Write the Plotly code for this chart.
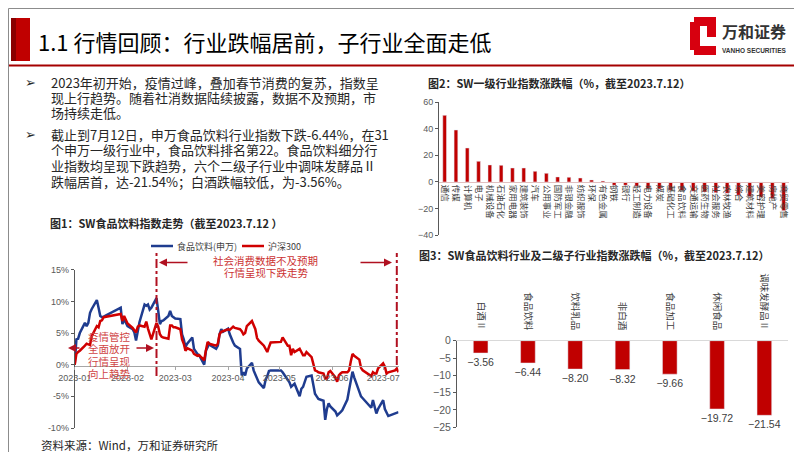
import plotly.graph_objects as go

W, H = 802, 452
def px(x): return x / W
def py(y): return 1 - y / H

# ---------------- data ----------------
dates = [
 "2023-01-03","2023-01-04","2023-01-05","2023-01-06","2023-01-09","2023-01-10","2023-01-11","2023-01-12","2023-01-13",
 "2023-01-16","2023-01-17","2023-01-18","2023-01-19","2023-01-20","2023-01-30","2023-01-31",
 "2023-02-01","2023-02-02","2023-02-03","2023-02-06","2023-02-07","2023-02-08","2023-02-09","2023-02-10",
 "2023-02-13","2023-02-14","2023-02-15","2023-02-16","2023-02-17","2023-02-20","2023-02-21","2023-02-22",
 "2023-02-23","2023-02-24","2023-02-27","2023-02-28",
 "2023-03-01","2023-03-02","2023-03-03","2023-03-06","2023-03-07","2023-03-08","2023-03-09","2023-03-10",
 "2023-03-13","2023-03-14","2023-03-15","2023-03-16","2023-03-17","2023-03-20","2023-03-21","2023-03-22",
 "2023-03-23","2023-03-24","2023-03-27","2023-03-28","2023-03-29","2023-03-30","2023-03-31",
 "2023-04-03","2023-04-04","2023-04-06","2023-04-07","2023-04-10","2023-04-11","2023-04-12","2023-04-13",
 "2023-04-14","2023-04-17","2023-04-18","2023-04-19","2023-04-20","2023-04-21","2023-04-24","2023-04-25",
 "2023-04-26","2023-04-27","2023-04-28",
 "2023-05-04","2023-05-05","2023-05-08","2023-05-09","2023-05-10","2023-05-11","2023-05-12","2023-05-15",
 "2023-05-16","2023-05-17","2023-05-18","2023-05-19","2023-05-22","2023-05-23","2023-05-24","2023-05-25",
 "2023-05-26","2023-05-29","2023-05-30","2023-05-31",
 "2023-06-01","2023-06-02","2023-06-05","2023-06-06","2023-06-07","2023-06-08","2023-06-09","2023-06-12",
 "2023-06-13","2023-06-14","2023-06-15","2023-06-16","2023-06-19","2023-06-20","2023-06-21","2023-06-26",
 "2023-06-27","2023-06-28","2023-06-29","2023-06-30",
 "2023-07-03","2023-07-04","2023-07-05","2023-07-06","2023-07-07","2023-07-10","2023-07-11","2023-07-12",
]
food_bev = [
 0.0, 4.0, 4.1, 5.0, 6.6, 6.1, 6.6, 8.2, 8.8, 10.2, 9.0, 7.7, 7.5, 7.6, 9.0, 6.4,
 7.2, 6.7, 6.1, 5.6, 5.1, 3.8, 5.6, 6.7, 9.5, 9.3, 9.5, 8.7, 9.0, 10.5, 8.5, 6.4, 6.9, 7.0, 7.7, 8.5,
 7.7, 7.5, 7.3, 7.2, 4.8, 4.0, 2.8, 3.3, 4.3, 2.5, 2.0, 1.7, 1.5, 0.0, 2.2, 2.8, 3.3, 3.0, 2.5, 3.0, 4.8, 5.6, 5.2,
 5.7, 4.8, 3.5, 3.0, 2.5, -1.7, -1.2, -1.7, -0.6, 0.3, -0.9, -1.6, -2.4, -2.8, -3.7, -2.4, -1.8, -1.0, -0.9,
 -0.9, -1.2, -2.4, -2.8, -3.5, -3.3, -3.0, -5.0, -3.8, -3.5, -2.7, -1.9, -1.7, -3.5, -4.6, -5.0, -5.4, -5.7, -8.7, -7.0,
 -6.1, -6.6, -7.4, -8.0, -7.8, -7.5, -7.2, -5.5, -4.0, -2.5, -1.1, -2.0, -4.3, -5.0, -5.3, -6.8, -5.6, -6.5, -7.7, -7.0,
 -5.6, -7.0, -7.5, -8.1, -8.0, -7.7, -7.6, -7.5,
]
hs300 = [
 0.0, 1.7, 2.0, 2.2, 3.0, 3.3, 3.2, 3.1, 4.5, 6.1, 5.9, 6.9, 7.0, 7.5, 8.0, 6.9,
 7.7, 7.0, 6.5, 5.8, 5.4, 5.1, 6.0, 6.2, 6.0, 6.8, 5.7, 4.6, 4.0, 6.6, 6.0, 4.8, 4.4, 4.3, 4.1, 6.2,
 6.2, 5.9, 5.9, 5.6, 4.0, 3.3, 2.2, 2.6, 2.2, 1.7, 1.5, 1.4, 1.5, 0.7, 2.3, 3.6, 3.3, 3.2, 3.0, 3.3, 4.8, 5.2, 5.3,
 5.6, 5.5, 6.0, 5.8, 5.6, 5.3, 4.8, 5.0, 6.1, 6.9, 6.3, 5.6, 4.2, 3.8, 3.0, 2.5, 2.0, 2.8, 3.5,
 3.6, 4.3, 3.0, 3.0, 1.5, 2.5, 2.0, 2.5, 2.0, 1.5, 1.5, 2.0, 1.2, 0.2, -0.9, -1.0, -1.2, -1.4, -2.2, -2.2,
 -1.2, -1.0, -2.0, -2.7, -1.7, -1.4, -1.2, -1.2, -0.9, 0.5, 1.7, 1.4, 0.8, -0.5, -0.9, -1.8, -1.2, -1.4, -1.4, -0.6,
 0.2, -0.3, -1.4, -1.2, -1.1, -0.9, -0.6, -1.2,
]
series_names = ["食品饮料(申万)", "沪深300"]
month_ticks = ["2023-01-03","2023-02-03","2023-03-03","2023-04-03","2023-05-03","2023-06-03","2023-07-03"]
month_labels = ["2023-01","2023-02","2023-03","2023-04","2023-05","2023-06","2023-07"]
pct_ticks = [-10, -5, 0, 5, 10, 15]
pct_labels = ["-10%", "-5%", "0%", "5%", "10%", "15%"]

sw_industries = ["通信","传媒","计算机","电子","机械设备","石油石化","家用电器","建筑装饰","汽车","公用事业",
                 "国防军工","非银金融","纺织服饰","环保","有色金属","钢铁","银行","轻工制造","电力设备","煤炭",
                 "基础化工","食品饮料","交通运输","医药生物","社会服务","农林牧渔","综合","建筑材料","美容护理",
                 "房地产","商贸零售"]
sw_changes = [50.0, 39.0, 25.5, 15.5, 12.8, 12.5, 10.5, 10.5, 8.0, 6.5,
              3.8, 3.5, 3.0, 1.5, 0.8, -2.5, -2.5, -3.2, -5.0, -5.2,
              -6.2, -6.44, -7.0, -7.5, -8.0, -8.5, -10.0, -11.0, -11.5, -12.5, -21.5]

sub_industries = ["白酒Ⅱ","食品饮料","饮料乳品","非白酒","食品加工","休闲食品","调味发酵品Ⅱ"]
sub_changes = [-3.56, -6.44, -8.20, -8.32, -9.66, -19.72, -21.54]

# ---------------- style ----------------
CJK = "Noto Sans CJK SC"
NUM = "Liberation Sans, Noto Sans CJK SC"
RED = "#c00000"
BLUE = "#1f3c8f"
LINE_RED = "#d00000"
TXT = "#262626"
TICK = "#595959"

fig = go.Figure()

fig.add_trace(go.Scatter(x=dates, y=food_bev, mode="lines", name=series_names[0],
                         line=dict(color=BLUE, width=2.5), xaxis="x", yaxis="y"))
fig.add_trace(go.Scatter(x=dates, y=hs300, mode="lines", name=series_names[1],
                         line=dict(color=LINE_RED, width=2.5), xaxis="x", yaxis="y"))
fig.add_trace(go.Bar(x=sw_industries, y=sw_changes, marker_color=RED, width=0.33,
                     xaxis="x2", yaxis="y2"))
fig.add_trace(go.Bar(x=sub_industries, y=sub_changes, marker_color=RED, width=0.31,
                     text=["−%.2f" % abs(v) for v in sub_changes], textposition="outside",
                     constraintext="none",
                     textfont=dict(family=NUM, size=10.5, color="#404040"), cliponaxis=False,
                     xaxis="x3", yaxis="y3"))

ax_common = dict(showgrid=False, zeroline=False, automargin=False)

fig.update_layout(
    width=W, height=H, margin=dict(l=0, r=0, t=0, b=0),
    paper_bgcolor="white", plot_bgcolor="rgba(0,0,0,0)", showlegend=False,
    font=dict(family=CJK, color=TXT),
    xaxis=dict(**ax_common, type="date", domain=[px(66.7), px(390.5)],
               range=["2023-01-03", "2023-07-12"], anchor="free", position=py(357.7),
               tickvals=month_ticks, ticktext=month_labels, showline=True, linecolor="#a6a6a6",
               ticks="outside", ticklen=3, tickcolor="#a6a6a6",
               tickfont=dict(family=NUM, size=9, color=TICK)),
    yaxis=dict(**ax_common, domain=[py(420), py(261.7)], range=[-10, 15], anchor="x",
               tickvals=pct_ticks, ticktext=pct_labels, showline=True, linecolor="#595959",
               ticks="outside", ticklen=3, tickcolor="#595959",
               tickfont=dict(family=NUM, size=9, color=TICK)),
    xaxis2=dict(**ax_common, type="category", domain=[px(431), px(781.3)], range=[-0.5, 30.5],
                anchor="free", position=py(174), showline=True, linecolor="#e0c0c0",
                ticks="", tickangle=90, tickfont=dict(family=CJK, size=8.5, color="#404040")),
    yaxis2=dict(**ax_common, domain=[py(227.3), py(94)], range=[-40, 60], anchor="x2",
                tickvals=[-40, -20, 0, 20, 40, 60], showline=True, linecolor="#595959",
                ticks="outside", ticklen=3, tickcolor="#595959",
                tickfont=dict(family=NUM, size=9, color=TICK)),
    xaxis3=dict(**ax_common, type="category", domain=[px(449), px(780)], range=[-0.5, 6.5],
                anchor="y3", side="top", showline=True, linecolor="#d9d9d9",
                ticks="", tickangle=90, ticklabelstandoff=6,
                tickfont=dict(family=CJK, size=9.5, color="#404040")),
    yaxis3=dict(**ax_common, domain=[py(419.3), py(332.7)], range=[-25, 0], anchor="x3",
                tickvals=[-25, -20, -15, -10, -5, 0], showline=True, linecolor="#595959",
                ticks="outside", ticklen=3, tickcolor="#595959",
                tickfont=dict(family=NUM, size=10.5, color=TICK)),
)

shapes = []
annots = []

# slide frame
shapes.append(dict(type="rect", xref="paper", yref="paper", x0=px(0.5), x1=px(801.5), y0=py(451.5), y1=py(0.5),
                   line=dict(color="#8c8c8c", width=1)))
# header red block
shapes.append(dict(type="rect", xref="paper", yref="paper", x0=px(3), x1=px(22), y0=py(53), y1=py(10),
                   fillcolor="#c00000", line=dict(width=0)))
shapes.append(dict(type="rect", xref="paper", yref="paper", x0=px(3), x1=px(8), y0=py(53), y1=py(10),
                   fillcolor="#8a0000", line=dict(width=0)))
# header rule
shapes.append(dict(type="line", xref="paper", yref="paper", x0=px(1), x1=px(801), y0=py(57.5), y1=py(57.5),
                   line=dict(color="#a50000", width=2)))
# logo icon
for (x0, y0, x1, y1) in [(686, 9, 708, 18), (682, 14, 692, 42), (686, 38, 708, 47), (699, 18, 708, 29)]:
    shapes.append(dict(type="rect", xref="paper", yref="paper", x0=px(x0), x1=px(x1), y0=py(y1), y1=py(y0),
                       fillcolor="#d7000f", line=dict(width=0)))

annots.append(dict(x=px(28), y=py(33), xref="paper", yref="paper", xanchor="left", yanchor="middle",
                   text="1.1 行情回顾：行业跌幅居前，子行业全面走低", showarrow=False,
                   font=dict(family=CJK, size=22, color="#000000")))
annots.append(dict(x=px(712), y=py(23), xref="paper", yref="paper", xanchor="left", yanchor="middle",
                   text="<b>万和证券</b>", showarrow=False, font=dict(family=CJK, size=16, color="#333333")))
annots.append(dict(x=px(712), y=py(42), xref="paper", yref="paper", xanchor="left", yanchor="middle",
                   text="<b>VANHO SECURITIES</b>", showarrow=False,
                   font=dict(family="Liberation Sans", size=6.5, color="#333333")))

# body text
lines = [
    (74, "2023年初开始，疫情过峰，叠加春节消费的复苏，指数呈", True),
    (89.5, "现上行趋势。随着社消数据陆续披露，数据不及预期，市", False),
    (105, "场持续走低。", False),
    (126.7, "截止到7月12日，申万食品饮料行业指数下跌-6.44%，在31", True),
    (142, "个申万一级行业中，食品饮料排名第22。食品饮料细分行", False),
    (157.3, "业指数均呈现下跌趋势，六个二级子行业中调味发酵品Ⅱ", False),
    (173.3, "跌幅居首，达-21.54%；白酒跌幅较低，为-3.56%。", False),
]
for y, t, bullet in lines:
    annots.append(dict(x=px(41.7), y=py(y), xref="paper", yref="paper", xanchor="left", yanchor="middle",
                       text=t, showarrow=False, borderpad=0, font=dict(family=CJK, size=13, color=TXT)))
    if bullet:
        annots.append(dict(x=px(16), y=py(y), xref="paper", yref="paper", xanchor="left", yanchor="middle",
                           text="➢", showarrow=False, borderpad=0,
                           font=dict(family="DejaVu Sans", size=13, color=TXT)))

# chart titles and source
annots.append(dict(x=px(40), y=py(215), xref="paper", yref="paper", xanchor="left", yanchor="middle",
                   text="<b>图1：SW食品饮料指数走势（截至2023.7.12 ）</b>", showarrow=False,
                   font=dict(family=CJK, size=11, color=TXT)))
annots.append(dict(x=px(418), y=py(75), xref="paper", yref="paper", xanchor="left", yanchor="middle",
                   text="<b>图2：SW一级行业指数涨跌幅（%，截至2023.7.12）</b>", showarrow=False,
                   font=dict(family=CJK, size=11, color=TXT)))
annots.append(dict(x=px(409), y=py(247), xref="paper", yref="paper", xanchor="left", yanchor="middle",
                   text="<b>图3：SW食品饮料行业及二级子行业指数涨跌幅（%，截至2023.7.12）</b>", showarrow=False,
                   font=dict(family=CJK, size=11, color=TXT)))
annots.append(dict(x=px(31), y=py(436.5), xref="paper", yref="paper", xanchor="left", yanchor="middle",
                   text="资料来源：Wind，万和证券研究所", showarrow=False,
                   font=dict(family=CJK, size=11.5, color=TXT)))

# chart 1 legend
shapes.append(dict(type="line", xref="paper", yref="paper", x0=px(143), x1=px(165), y0=py(238), y1=py(238),
                   line=dict(color=BLUE, width=2.5)))
shapes.append(dict(type="line", xref="paper", yref="paper", x0=px(234), x1=px(256), y0=py(238), y1=py(238),
                   line=dict(color=LINE_RED, width=2.5)))
annots.append(dict(x=px(167), y=py(238), xref="paper", yref="paper", xanchor="left", yanchor="middle",
                   text=series_names[0], showarrow=False, font=dict(family=CJK, size=9, color="#404040")))
annots.append(dict(x=px(258), y=py(238), xref="paper", yref="paper", xanchor="left", yanchor="middle",
                   text=series_names[1], showarrow=False, font=dict(family=CJK, size=9, color="#404040")))

# chart 1 phase markers
for d, ybot in [("2023-02-20", 368), ("2023-07-11", 357)]:
    shapes.append(dict(type="line", xref="x", yref="paper", x0=d, x1=d, y0=py(ybot), y1=py(245),
                       line=dict(color="#b01020", width=2, dash="dashdot")))

ANN_RED = "#cc3333"
annots.append(dict(x=px(257), y=py(252.5), xref="paper", yref="paper", xanchor="center", yanchor="middle",
                   text="社会消费数据不及预期", showarrow=False, borderpad=0,
                   font=dict(family=CJK, size=10.5, color=ANN_RED)))
annots.append(dict(x=px(258), y=py(264.5), xref="paper", yref="paper", xanchor="center", yanchor="middle",
                   text="行情呈现下跌走势", showarrow=False, borderpad=0,
                   font=dict(family=CJK, size=10.5, color=ANN_RED)))
for i, t in enumerate(["疫情管控", "全面放开", "行情呈现", "向上趋势"]):
    annots.append(dict(x=px(101), y=py(328.5 + 12.3 * i), xref="paper", yref="paper", xanchor="center",
                       yanchor="middle", text=t, showarrow=False, borderpad=0,
                       font=dict(family=CJK, size=10.5, color="#d04545")))

def arrow(xh, yh, xt, yt):
    annots.append(dict(x=px(xh), y=py(yh), xref="paper", yref="paper", ax=xt - xh, ay=yt - yh,
                       axref="pixel", ayref="pixel", text="", showarrow=True, arrowhead=2,
                       arrowsize=1, arrowwidth=1.6, arrowcolor="#b01020"))

arrow(151, 254.5, 181, 254.5)
arrow(384, 254.5, 351, 254.5)
arrow(60, 340, 73, 340)
arrow(146, 340, 127, 340)

fig.update_layout(shapes=shapes, annotations=annots)
fig.write_html("out.html")
